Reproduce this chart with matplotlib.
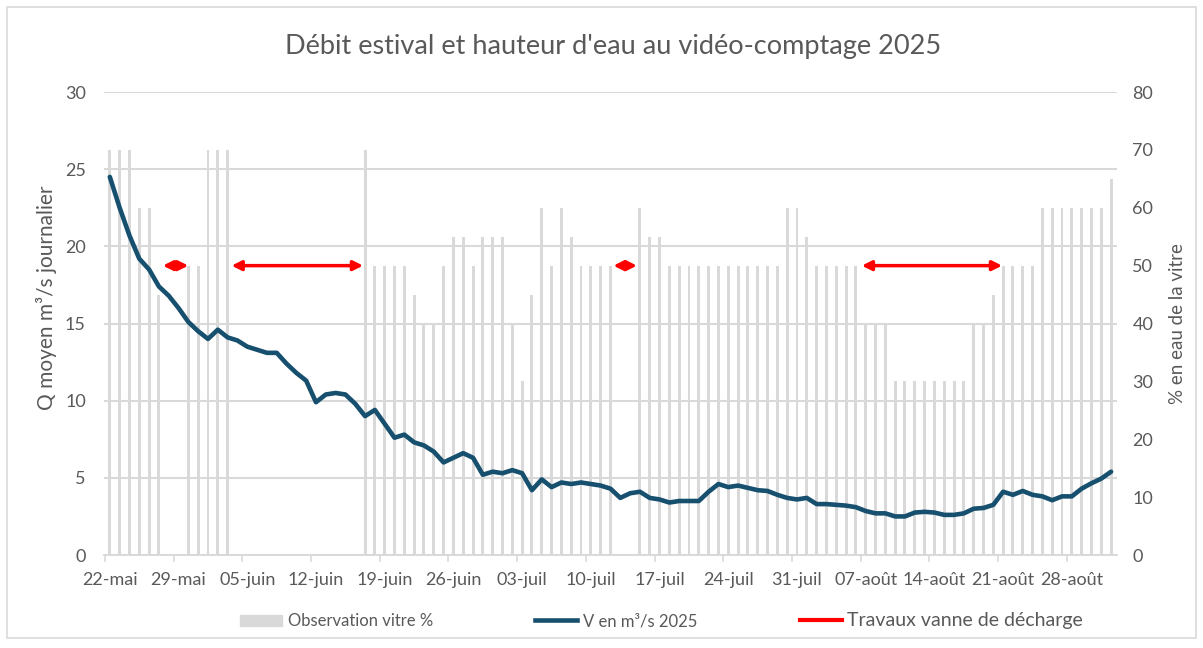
import matplotlib
matplotlib.use("Agg")
import matplotlib.pyplot as plt
from matplotlib.lines import Line2D
from matplotlib.patches import Patch, Rectangle
import numpy as np
import pandas as pd

# debit moyen journalier (m3/s), a partir du 22-mai
debit = [24.5, 22.5, 20.7, 19.2, 18.5, 17.4, 16.8, 16.0, 15.1, 14.5,
         14.0, 14.6, 14.1, 13.9, 13.5, 13.3, 13.1, 13.1, 12.4, 11.8,
         11.3, 9.9, 10.4, 10.5, 10.4, 9.8, 9.0, 9.4, 8.5, 7.6,
         7.8, 7.3, 7.1, 6.7, 6.0, 6.3, 6.6, 6.3, 5.2, 5.4,
         5.3, 5.5, 5.3, 4.2, 4.9, 4.4, 4.7, 4.6, 4.7, 4.6,
         4.5, 4.3, 3.7, 4.0, 4.1, 3.7, 3.6, 3.4, 3.5, 3.5,
         3.5, 4.1, 4.6, 4.4, 4.5, 4.35, 4.2, 4.15, 3.9, 3.7,
         3.6, 3.7, 3.3, 3.3, 3.25, 3.2, 3.1, 2.85, 2.7, 2.7,
         2.5, 2.5, 2.75, 2.8, 2.75, 2.6, 2.6, 2.7, 3.0, 3.05,
         3.25, 4.1, 3.9, 4.15, 3.9, 3.8, 3.55, 3.8, 3.8, 4.3,
         4.65, 4.95, 5.4]

# observation vitre (% en eau)
vitre = [70, 70, 70, 60, 60, 45, 0, 0, 50, 50,
         70, 70, 70, 0, 0, 0, 0, 0, 0, 0,
         0, 0, 0, 0, 0, 0, 70, 50, 50, 50,
         50, 45, 40, 40, 50, 55, 55, 50, 55, 55,
         55, 40, 30, 45, 60, 50, 60, 55, 50, 50,
         50, 50, 0, 0, 60, 55, 55, 50, 50, 50,
         50, 50, 50, 50, 50, 50, 50, 50, 50, 60,
         60, 55, 50, 50, 50, 50, 50, 40, 40, 40,
         30, 30, 30, 30, 30, 30, 30, 30, 40, 40,
         45, 50, 50, 50, 50, 60, 60, 60, 60, 60,
         60, 60, 65]

# travaux vanne de decharge (jours depuis le 22-mai)
travaux_debut = [5.4, 12.4, 51.3, 76.6]
travaux_fin = [8.0, 25.8, 53.7, 90.9]
travaux_niveau = 50

mois = {5: "mai", 6: "juin", 7: "juil", 8: "août"}
dates = pd.date_range("2025-05-22", periods=len(debit), freq="D")

plt.rcParams['font.family'] = ['Lato', 'DejaVu Sans']
gris = '#595959'
grille = '#d9d9d9'

fig = plt.figure(figsize=(12.03, 6.48), dpi=100)
fig.subplots_adjust(left=0.0864, right=0.9285, top=0.858, bottom=0.1435)
ax = fig.add_subplot(111)
ax2 = ax.twinx()

x = np.arange(len(debit))

ax2.bar(x, vitre, width=0.3, color=grille, zorder=1)
for d0, d1 in zip(travaux_debut, travaux_fin):
    ax2.annotate('', xy=(d1, travaux_niveau), xytext=(d0, travaux_niveau),
                 arrowprops=dict(arrowstyle='<|-|>', color='#ff0000', lw=2.5,
                                 mutation_scale=14, shrinkA=0, shrinkB=0))

ax.plot(x, debit, color='#174f6e', lw=3.3, solid_capstyle='round', zorder=3)

ax.set_zorder(ax2.get_zorder() + 1)
ax.patch.set_visible(False)

ax.set_xlim(-0.6, len(debit) - 0.4)
ax.set_ylim(0, 30)
ax2.set_ylim(0, 80)
ax.set_yticks(np.arange(0, 31, 5))
ax2.set_yticks(np.arange(0, 81, 10))
ax.yaxis.grid(True, color=grille, lw=1.5)
ax.set_axisbelow(True)

lab_pos = x[::7]
ax.set_xticks(lab_pos)
ax.set_xticklabels([f"{d.day:02d}-{mois[d.month]}" for d in dates[::7]])
ax.set_xticks(lab_pos - 0.5, minor=True)
ax.tick_params(axis='x', which='major', length=0, pad=12, labelsize=13, labelcolor=gris)
ax.tick_params(axis='x', which='minor', length=5, color=grille, width=1.2)
ax.tick_params(axis='y', length=0, pad=13, labelsize=13, labelcolor=gris)
ax2.tick_params(axis='y', length=0, pad=11, labelsize=13, labelcolor=gris)

for a in (ax, ax2):
    for s in ('top', 'left', 'right'):
        a.spines[s].set_visible(False)
    a.spines['bottom'].set_color(grille)
    a.spines['bottom'].set_linewidth(1.2)

ax.set_ylabel("Q moyen m³/s journalier", color=gris, fontsize=15)
ax.yaxis.set_label_coords(-0.046, 0.555)
ax2.set_ylabel("% en eau de la vitre", color=gris, fontsize=13.5)
ax2.yaxis.set_label_coords(1.051, 0.5)

fig.suptitle("Débit estival et hauteur d'eau au vidéo-comptage 2025",
             x=0.51, y=0.948, fontsize=19.5, color=gris)

handles = [Patch(color=grille),
           Line2D([], [], color='#174f6e', lw=3.3),
           Line2D([], [], color='#ff0000', lw=3)]
labels = ["Observation vitre %", "V en m³/s 2025", "Travaux vanne de décharge"]
leg = fig.legend(handles, labels, loc='center', bbox_to_anchor=(0.55, 0.042),
                 ncol=3, frameon=False, fontsize=12, handlelength=2.5,
                 handletextpad=0.35, columnspacing=6.15, labelcolor=gris)
leg.get_texts()[2].set_fontsize(14)

fig.patches.append(Rectangle((7, 10), 1189, 631, transform=None, fill=False,
                             edgecolor=grille, lw=1.2))

fig.savefig("out.png", dpi=100)
